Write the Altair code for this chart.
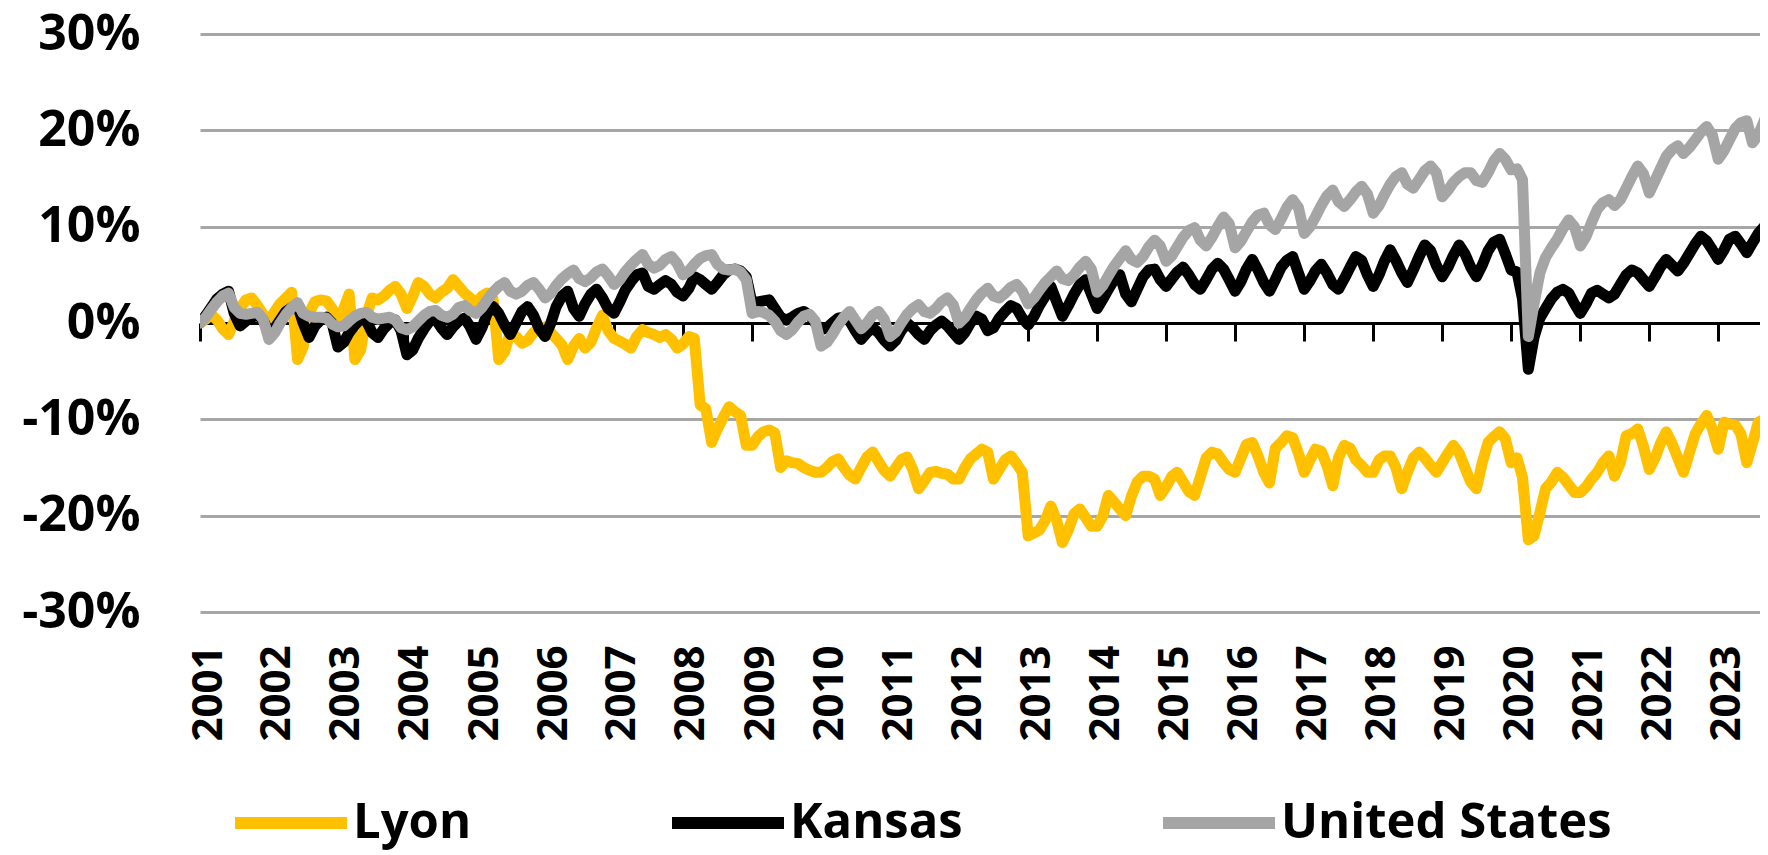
import altair as alt
import pandas as pd

series_names = ["Lyon", "Kansas", "United States"]
series_colors = ["#FFC000", "#000000", "#A5A5A5"]
year_ticks = list(range(2001, 2024))
y_ticks = [-30, -20, -10, 0, 10, 20, 30]

# monthly values (%), Jan 2001 .. Sep 2023
lyon = [
    0.0, 0.4, 0.9, 0.3, -0.6, -1.2, 0.2, 1.5, 2.4, 2.6, 1.8, 0.9,          # 2001
    0.2, 1.2, 2.0, 2.6, 3.2, -3.8, -2.5, 1.0, 2.2, 2.4, 2.3, 1.5,          # 2002
    0.0, 1.5, 3.0, -3.8, -2.8, 0.8, 2.6, 2.4, 2.8, 3.4, 3.8, 3.0,          # 2003
    1.5, 2.8, 4.2, 3.8, 3.0, 2.6, 3.2, 3.6, 4.5, 3.8, 3.1, 2.6,            # 2004
    2.0, 2.8, 3.1, 2.5, -3.8, -3.0, -1.0, -1.4, -2.1, -1.8, -1.0, -0.6,    # 2005
    -0.4, -1.0, -1.6, -2.3, -3.8, -2.4, -1.6, -2.6, -2.0, -0.5, 0.8, -0.8, # 2006
    -1.6, -1.9, -2.2, -2.6, -1.4, -0.7, -1.0, -1.2, -1.5, -1.2, -1.7, -2.6,  # 2007
    -2.2, -1.4, -1.6, -8.5, -8.9, -12.4, -11.0, -9.8, -8.7, -9.2, -9.6, -12.7,  # 2008
    -12.7, -11.8, -11.3, -11.1, -11.4, -15.0, -14.3, -14.5, -14.6, -15.0, -15.3, -15.5,  # 2009
    -15.5, -15.0, -14.4, -14.1, -15.0, -15.8, -16.2, -15.0, -13.9, -13.4, -14.4, -15.3,  # 2010
    -15.9, -15.0, -14.2, -13.9, -15.2, -17.2, -16.4, -15.5, -15.4, -15.6, -15.7, -16.2,  # 2011
    -16.2, -15.0, -14.1, -13.6, -13.1, -13.4, -16.2, -15.2, -14.2, -13.8, -14.6, -15.5,  # 2012
    -22.1, -21.8, -21.5, -20.5, -19.0, -20.5, -22.8, -21.5, -19.8, -19.3, -20.2, -21.1,  # 2013
    -21.1, -20.0, -17.9, -18.6, -19.3, -20.0, -18.0, -16.5, -15.9, -15.9, -16.2, -17.9,  # 2014
    -17.0, -15.9, -15.5, -16.5, -17.5, -17.9, -16.0, -14.0, -13.4, -13.6, -14.5, -15.2,  # 2015
    -15.5, -14.0, -12.6, -12.4, -13.8, -15.5, -16.6, -13.0, -12.4, -11.7, -11.9, -13.5,  # 2016
    -15.5, -14.2, -13.1, -13.3, -14.8, -16.9, -14.0, -12.7, -13.0, -14.2, -14.8, -15.5,  # 2017
    -15.5, -14.2, -13.8, -13.8, -15.0, -17.2, -15.5, -14.0, -13.4, -14.0, -14.8, -15.5,  # 2018
    -14.5, -13.5, -12.7, -13.5, -15.0, -16.5, -17.2, -14.5, -12.4, -11.8, -11.3, -12.0,  # 2019
    -14.5, -14.0, -16.0, -22.5, -22.1, -19.7, -17.2, -16.5, -15.5, -16.0, -16.8, -17.6,  # 2020
    -17.6, -17.0, -16.2, -15.5, -14.5, -13.8, -15.9, -14.5, -11.7, -11.5, -11.0, -12.8,  # 2021
    -15.2, -14.0, -12.5, -11.3, -12.5, -14.0, -15.5, -13.5, -11.5, -10.5, -9.6, -11.0,   # 2022
    -13.1, -10.3, -10.5, -10.6, -11.5, -14.5, -12.5, -10.3, -10.0,                       # 2023
]

kansas = [
    0.0, 0.8, 1.6, 2.5, 3.0, 3.3, 1.0, -0.3, 0.2, 0.6, 0.8, 0.3,      # 2001
    -1.0, -0.5, 0.3, 1.2, 1.6, 1.8, 0.0, -1.5, -0.3, 0.3, 0.6, 0.0,   # 2002
    -2.5, -2.0, -1.0, -0.2, 0.4, 0.2, -1.0, -1.5, -0.6, 0.0, 0.3, -0.8,  # 2003
    -3.3, -2.8, -1.6, -0.6, 0.2, 0.4, -0.5, -1.2, -0.4, 0.2, 0.5, -0.4,  # 2004
    -1.7, -0.5, 1.0, 1.7, 1.0, -0.2, -1.2, 0.0, 1.2, 1.7, 0.8, -0.6,  # 2005
    -1.4, 0.0, 1.7, 2.8, 3.3, 1.5, 0.7, 2.0, 3.0, 3.5, 2.6, 1.5,      # 2006
    1.0, 2.2, 3.4, 4.3, 5.0, 5.2, 3.8, 3.5, 4.0, 4.4, 4.0, 3.2,       # 2007
    2.8, 3.6, 4.8, 4.5, 4.0, 3.5, 4.2, 5.0, 5.5, 5.6, 5.4, 4.8,       # 2008
    2.0, 2.2, 2.3, 2.4, 1.5, 0.6, 0.3, 0.6, 1.0, 1.2, 0.8, 0.0,       # 2009
    -0.7, -0.5, 0.0, 0.5, 0.6, 0.2, -0.8, -1.7, -1.0, -0.5, -1.0, -1.8,  # 2010
    -2.4, -1.8, -0.8, 0.0, -0.5, -1.2, -1.7, -0.8, -0.2, 0.2, -0.3, -1.0,  # 2011
    -1.7, -1.0, 0.0, 0.7, 0.4, -0.8, -0.5, 0.5, 1.2, 1.8, 1.5, 0.5,   # 2012
    -0.2, 0.7, 1.8, 2.8, 3.8, 2.2, 0.7, 1.8, 3.0, 4.0, 4.5, 3.0,      # 2013
    1.5, 2.5, 3.5, 4.5, 5.0, 3.0, 2.2, 3.5, 4.8, 5.5, 5.6, 4.5,       # 2014
    3.8, 4.6, 5.3, 5.8, 5.0, 4.0, 3.5, 4.5, 5.6, 6.2, 5.6, 4.5,       # 2015
    3.3, 4.3, 5.6, 6.6, 5.5, 4.2, 3.3, 4.5, 5.8, 6.5, 6.9, 5.2,       # 2016
    3.5, 4.4, 5.4, 6.1, 5.2, 4.0, 3.5, 4.6, 5.8, 6.9, 6.5, 5.0,       # 2017
    3.8, 5.0, 6.4, 7.6, 6.5, 5.2, 4.2, 5.5, 6.9, 8.1, 7.5, 6.0,       # 2018
    4.8, 5.8, 7.0, 8.1, 7.2, 5.8, 4.8, 6.0, 7.5, 8.4, 8.7, 7.2,       # 2019
    5.5, 5.3, 2.5, -4.8, -1.5, 0.5, 1.5, 2.5, 3.2, 3.5, 3.1, 2.0,     # 2020
    1.0, 2.0, 3.1, 3.4, 3.0, 2.6, 3.0, 4.0, 5.0, 5.5, 5.2, 4.5,       # 2021
    3.8, 4.8, 5.8, 6.6, 6.0, 5.4, 6.2, 7.2, 8.2, 9.0, 8.5, 7.6,       # 2022
    6.6, 7.6, 8.7, 9.0, 8.2, 7.3, 8.3, 9.3, 10.0,                     # 2023
]

united_states = [
    0.0, 0.6, 1.4, 2.2, 2.8, 3.1, 1.6, 1.0, 0.9, 1.0, 1.1, 0.4,       # 2001
    -1.7, -1.0, 0.0, 0.9, 1.6, 2.1, 1.0, 0.7, 0.6, 0.6, 0.5, -0.1,    # 2002
    -0.4, -0.3, 0.2, 0.7, 1.0, 1.1, 0.6, 0.4, 0.5, 0.6, 0.3, -0.5,    # 2003
    -0.7, -0.4, 0.2, 0.8, 1.2, 1.3, 0.8, 0.6, 0.9, 1.6, 1.8, 1.3,     # 2004
    1.0, 1.6, 2.4, 3.2, 3.8, 4.2, 3.3, 3.0, 3.3, 3.9, 4.2, 3.5,       # 2005
    2.6, 3.1, 3.9, 4.6, 5.1, 5.5, 4.6, 4.3, 4.7, 5.3, 5.6, 4.9,       # 2006
    4.0, 4.5, 5.3, 6.0, 6.6, 7.1, 6.1, 5.7, 6.0, 6.6, 6.9, 6.2,       # 2007
    5.0, 5.4, 6.1, 6.7, 7.0, 7.1, 6.1, 5.6, 5.5, 5.6, 5.3, 4.5,       # 2008
    1.0, 1.2, 1.1, 0.8, 0.2, -0.8, -1.2, -0.7, 0.1, 0.7, 0.9, 0.2,    # 2009
    -2.4, -2.0, -1.2, -0.2, 0.6, 1.2, 0.3, -0.6, 0.0, 0.8, 1.2, 0.4,  # 2010
    -1.4, -0.9, 0.0, 0.9, 1.5, 1.9, 1.2, 1.0, 1.5, 2.2, 2.6, 1.9,     # 2011
    0.0, 0.6, 1.5, 2.4, 3.1, 3.6, 2.8, 2.6, 3.1, 3.7, 4.0, 3.3,       # 2012
    2.0, 2.6, 3.4, 4.2, 4.8, 5.4, 4.6, 4.4, 5.0, 5.8, 6.4, 5.6,       # 2013
    3.2, 3.9, 4.9, 5.9, 6.7, 7.5, 6.6, 6.3, 6.9, 7.9, 8.6, 8.0,       # 2014
    6.4, 7.0, 7.9, 8.9, 9.6, 9.9, 8.6, 8.0, 8.9, 10.0, 11.0, 10.3,    # 2015
    7.8, 8.5, 9.5, 10.5, 11.2, 11.4, 10.2, 9.7, 10.8, 12.0, 12.8, 12.0,   # 2016
    9.3, 10.0, 11.0, 12.2, 13.2, 13.8, 12.6, 12.1, 12.8, 13.6, 14.2, 13.4,  # 2017
    11.4, 12.2, 13.3, 14.4, 15.2, 15.6, 14.4, 14.0, 14.9, 15.8, 16.3, 15.6,  # 2018
    13.1, 13.8, 14.6, 15.2, 15.6, 15.6, 14.8, 14.6, 15.6, 16.8, 17.6, 17.0,  # 2019
    15.9, 16.0, 14.9, -1.4, 2.0, 5.2, 6.8, 7.8, 8.7, 9.8, 10.7, 10.0,       # 2020
    8.0, 9.0, 10.4, 11.8, 12.5, 12.8, 12.2, 12.8, 14.0, 15.2, 16.3, 15.5,   # 2021
    13.5, 14.8, 16.0, 17.3, 18.0, 18.4, 17.6, 18.2, 19.0, 19.8, 20.4, 19.5, # 2022
    17.0, 17.9, 19.0, 20.2, 20.8, 21.0, 18.7, 19.5, 21.0,                   # 2023
]

dates = pd.date_range("2001-01-01", periods=len(lyon), freq="MS")
rows = []
for name, vals in zip(series_names, [lyon, kansas, united_states]):
    for d, v in zip(dates, vals):
        rows.append({"date": d.strftime("%Y-%m-%d"), "value": v, "series": name})
df = pd.DataFrame(rows)

FONT = "Open Sans"

x_enc = alt.X(
    "date:T",
    scale=alt.Scale(
        type="utc",
        domain=[alt.DateTime(year=2001, month=1, date=1, utc=True),
                alt.DateTime(year=2023, month=8, date=10, utc=True)],
    ),
    axis=alt.Axis(
        values=[alt.DateTime(year=y, month=1, date=1, utc=True) for y in year_ticks],
        labelExpr="utcFormat(datum.value, '%Y')",
        title=None,
        orient="bottom",
        offset=-289,
        domain=True, domainColor="#000000", domainWidth=3,
        ticks=True, tickColor="#000000", tickWidth=3, tickSize=18,
        labelPadding=304, labelAngle=-90, labelOffset=8,
        labelFont=FONT, labelFontWeight="bold", labelFontSize=42, labelColor="#000000",
        labelFlush=False, labelOverlap=False, labelBound=False,
        grid=False,
    ),
)

y_enc = alt.Y(
    "value:Q",
    scale=alt.Scale(domain=[-30, 30], nice=False, zero=False),
    axis=alt.Axis(
        values=y_ticks,
        labelExpr="datum.value + '%'",
        title=None,
        domain=False, ticks=False,
        grid=True, gridColor="#A6A6A6", gridWidth=3,
        labelPadding=60,
        labelFont=FONT, labelFontWeight="bold", labelFontSize=50, labelColor="#000000",
    ),
)

color_enc = alt.Color(
    "series:N",
    scale=alt.Scale(domain=series_names, range=series_colors),
    legend=alt.Legend(
        orient="none", legendX=29, legendY=727,
        direction="horizontal", columns=3, title=None,
        labelFont=FONT, labelFontWeight="bold", labelFontSize=49, labelColor="#000000",
        symbolType="stroke", symbolSize=12544, symbolStrokeWidth=12,
        labelOffset=0, columnPadding=176, padding=0, labelLimit=0,
    ),
)

layers = []
for name in series_names:
    layers.append(
        alt.Chart(df)
        .transform_filter(alt.datum.series == name)
        .mark_line(strokeWidth=11, strokeJoin="round", strokeCap="round", clip=True)
        .encode(x=x_enc, y=y_enc, color=color_enc)
    )

chart = (
    alt.layer(*layers)
    .properties(
        width=1560, height=578,
        autosize=alt.AutoSizeParams(type="none"),
        padding={"left": 192, "top": 26, "right": 0, "bottom": 239},
        background="#FFFFFF",
    )
    .configure_view(strokeWidth=0)
)

chart.save("out.html", embed_options={"renderer": "svg", "actions": False})
